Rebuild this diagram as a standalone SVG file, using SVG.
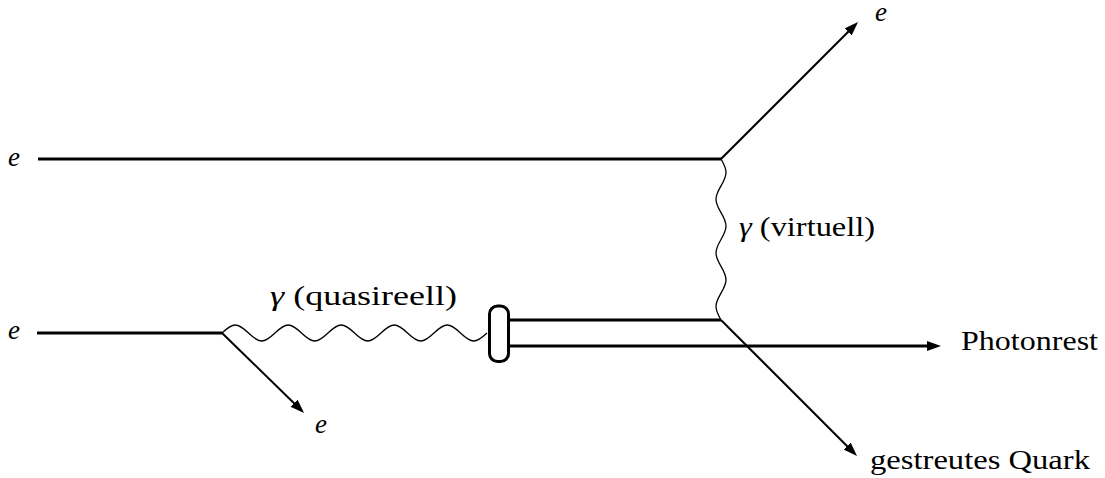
<svg xmlns="http://www.w3.org/2000/svg" width="1105" height="478" viewBox="0 0 1105 478">
<style>
.thick{stroke:#000;stroke-width:3;fill:none}
.out{stroke:#000;stroke-width:2;fill:none}
.wave{stroke:#000;stroke-width:1.3;fill:none}
.lbl{font-family:serif;font-size:27px;fill:#000}
.it{font-style:italic}
</style>
<defs>
<marker id="arr" markerUnits="userSpaceOnUse" markerWidth="14" markerHeight="10" viewBox="0 0 14 10" refX="9" refY="5" orient="auto">
<path d="M0,0 L14,5 L0,10 z" fill="#000"/>
</marker>
</defs>
<rect width="1105" height="478" fill="#fff"/>
<g id="connectors">
<line class="thick" x1="38" y1="159" x2="721" y2="159"/>
<line class="thick" x1="37" y1="333" x2="222" y2="333"/>
<line class="out" x1="721" y1="159" x2="854.5" y2="25.5" marker-end="url(#arr)"/>
<line class="out" x1="222" y1="333" x2="300.5" y2="409.5" marker-end="url(#arr)"/>
<line class="out" x1="721" y1="320" x2="853.5" y2="452.5" marker-end="url(#arr)"/>
<line class="thick" x1="509" y1="320" x2="721" y2="320"/>
<line class="thick" x1="509" y1="346" x2="936" y2="346" marker-end="url(#arr)"/>
<path id="quasireal" class="wave" d="M222,333 c 4.32,-4.10 8.45,-8 13.25,-8 c 4.80,0 8.93,3.90 13.25,8 c 4.32,4.10 8.45,8 13.25,8 c 4.80,0 8.93,-3.90 13.25,-8 c 4.32,-4.10 8.45,-8 13.25,-8 c 4.80,0 8.93,3.90 13.25,8 c 4.32,4.10 8.45,8 13.25,8 c 4.80,0 8.93,-3.90 13.25,-8 c 4.32,-4.10 8.45,-8 13.25,-8 c 4.80,0 8.93,3.90 13.25,8 c 4.32,4.10 8.45,8 13.25,8 c 4.80,0 8.93,-3.90 13.25,-8 c 4.32,-4.10 8.45,-8 13.25,-8 c 4.80,0 8.93,3.90 13.25,8 c 4.32,4.10 8.45,8 13.25,8 c 4.80,0 8.93,-3.90 13.25,-8 c 4.32,-4.10 8.45,-8 13.25,-8 c 4.80,0 8.93,3.90 13.25,8 c 4.32,4.10 8.45,8 13.25,8 c 4.80,0 8.93,-3.90 13.25,-8"/>
<path id="virtual" class="wave" d="M721,159 c 2.56,4.38 5,8.56 5,13.42 c 0,4.86 -2.44,9.04 -5,13.42 c -2.56,4.38 -5,8.56 -5,13.42 c 0,4.86 2.44,9.04 5,13.42 c 2.56,4.38 5,8.56 5,13.42 c 0,4.86 -2.44,9.04 -5,13.42 c -2.56,4.38 -5,8.56 -5,13.42 c 0,4.86 2.44,9.04 5,13.42 c 2.56,4.38 5,8.56 5,13.42 c 0,4.86 -2.44,9.04 -5,13.42 c -2.56,4.38 -5,8.56 -5,13.42 c 0,4.86 2.44,9.04 5,13.42"/>
</g>
<g id="blob">
<rect x="489.5" y="306" width="19" height="55.5" rx="8" ry="8" fill="#fff" stroke="#000" stroke-width="3"/>
</g>
<g id="labels">
<text class="lbl it" x="8" y="166">e</text>
<text class="lbl it" x="8" y="339">e</text>
<text class="lbl it" x="875" y="21">e</text>
<text class="lbl it" x="315" y="433">e</text>
<text class="lbl" x="739" y="236" textLength="136" lengthAdjust="spacingAndGlyphs"><tspan class="it">γ</tspan> (virtuell)</text>
<text class="lbl" x="270" y="305" textLength="187" lengthAdjust="spacingAndGlyphs"><tspan class="it">γ</tspan> (quasireell)</text>
<text class="lbl" x="961" y="350" textLength="137" lengthAdjust="spacingAndGlyphs">Photonrest</text>
<text class="lbl" x="870" y="469" textLength="220" lengthAdjust="spacingAndGlyphs">gestreutes Quark</text>
</g>
</svg>
